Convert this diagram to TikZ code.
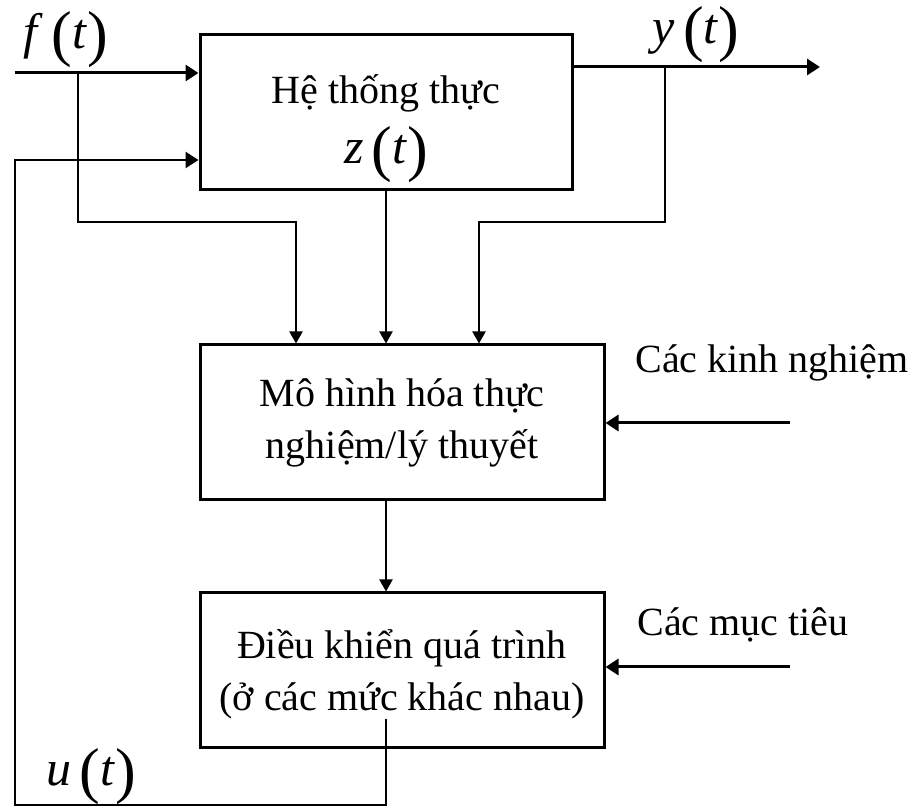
\documentclass[tikz,border=0pt]{standalone}
\usepackage{fontspec}
\setmainfont{LiberationSerif}[Extension=.ttf, UprightFont=*-Regular, ItalicFont=*-Italic, BoldFont=*-Bold, BoldItalicFont=*-BoldItalic]
\usetikzlibrary{arrows.meta}
\usetikzlibrary{positioning}

% signal name with tall parentheses, e.g. f(t)
\newcommand{\sigt}[1]{{\fontsize{25}{30}\selectfont\textit{#1}\,\raisebox{-0.12em}{\fontsize{31}{31}\selectfont(}\textit{t}\raisebox{-0.12em}{\fontsize{31}{31}\selectfont)}}}

\tikzset{
	khoi/.style={draw, line width=1.5pt, minimum width=202pt, minimum height=77.5pt,
		align=center, font=\fontsize{20}{26}\selectfont},
	nhan/.style={font=\fontsize{20}{26}\selectfont},
	chinh/.style={line width=1.5pt, -{Triangle[length=6.5pt,width=8pt]}},
	nhanh/.style={line width=1pt, -{Triangle[length=6pt,width=6.5pt]}},
	hoitiep/.style={line width=1.2pt, -{Triangle[length=6.5pt,width=8pt]}}
}

\begin{document}
\begin{tikzpicture}[x=0.5pt, y=-0.5pt]
	\useasboundingbox[fill=white] (0,0) rectangle (918,808);

	\node[khoi, minimum width=186pt] (real) at (386,112.5) {};
	\node[nhan, align=center] (realtxt) at ([yshift=-8pt]real.center) {Hệ thống thực\\[4pt]\sigt{z}};
	\node[khoi] (model) at (402,422.5) {Mô hình hóa thực\\nghiệm/lý thuyết};
	\node[khoi, below=45pt of model] (ctrl) {};
	\node[nhan, align=center] (ctrltxt) at ([yshift=-2pt]ctrl.center) {Điều khiển quá trình\\(ở các mức khác nhau)};

	\node (flab) at (66,40) {\sigt{f}};
	\node (ylab) at (696,35) {\sigt{y}};
	\node (ulab) at (91,777) {\sigt{u}};
	\node[nhan] (exp) at (772,363) {Các kinh nghiệm};
	\node[nhan] (goal) at (743,625) {Các mục tiêu};

	\coordinate (fin) at (15,73);
	\coordinate (fbr) at (78,73);
	\coordinate (fk) at (296,222);
	\coordinate (yout) at (820,67);
	\coordinate (ybr) at (665,67);
	\coordinate (yk) at (479,222);
	\coordinate (uend) at (386,719);
	\coordinate (ucnr) at (15,805);
	\coordinate (fbin) at (15,160);
	\coordinate (expin) at (790,423);
	\coordinate (goalin) at (790,667);

	\draw[chinh] (fin) -- (fin -| real.west);
	\draw[nhanh] (fbr) |- (fk) -- (fk |- model.north);
	\draw[chinh] (real.east |- yout) -- (yout);
	\draw[nhanh] (ybr) |- (yk) -- (yk |- model.north);
	\draw[nhanh] (real.south) -- (real.south |- model.north);
	\draw[nhanh] (model.south -| real.south) -- (ctrl.north -| real.south);
	\draw[hoitiep] (uend) |- (ucnr) -- (fbin) -- (fbin -| real.west);
	\draw[chinh] (expin) -- (expin -| model.east);
	\draw[chinh] (goalin) -- (goalin -| ctrl.east);
\end{tikzpicture}
\end{document}
